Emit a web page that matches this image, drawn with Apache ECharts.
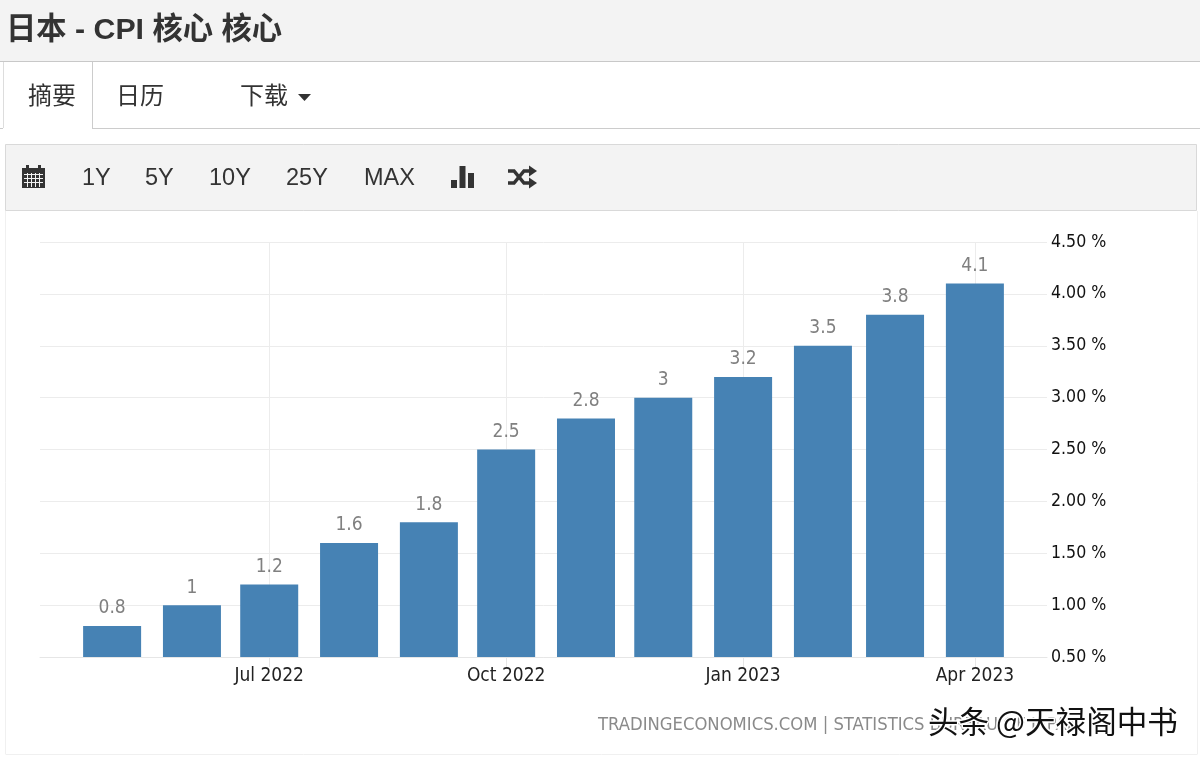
<!DOCTYPE html>
<html><head><meta charset="utf-8">
<style>html,body{margin:0;padding:0;background:#fff}#c{width:1200px;height:757px}</style>
<script src="https://cdn.jsdelivr.net/npm/echarts@6/dist/echarts.min.js"></script>
</head><body><div id="c"></div>
<script>
const titleText = '日本 - CPI 核心 核心';
const months = ['2022-05-01','2022-06-01','2022-07-01','2022-08-01','2022-09-01','2022-10-01','2022-11-01','2022-12-01','2023-01-01','2023-02-01','2023-03-01','2023-04-01'];
const values = [0.8,1,1.2,1.6,1.8,2.5,2.8,3,3.2,3.5,3.8,4.1];
const xTicks = ['2022-07-01','2022-10-01','2023-01-01','2023-04-01'];
const xTickLabels = ['Jul 2022','Oct 2022','Jan 2023','Apr 2023'];
const xRange = ['2022-04-03','2023-04-29'];
const yTicks = {min:0.5,max:4.5,step:0.5};
const tabs = [['摘要',28],['日历',116],['下载',240]];
const ranges = [['1Y',82],['5Y',145],['10Y',209],['25Y',286],['MAX',364]];
const sourceText = 'TRADINGECONOMICS.COM | STATISTICS BUREAU OF JAPAN';
const watermark = '头条 @天禄阁中书';

const ts = s => Date.parse(s+'T00:00:00Z');
const tickTs = xTicks.map(ts);
const line = (x1,y1,x2,y2,c,z) => ({type:'line',silent:true,z:z||0,shape:{x1,y1,x2,y2},style:{stroke:c,lineWidth:1}});
const rect = (x,y,w,h,fill,stroke) => ({type:'rect',silent:true,z:0,shape:{x,y,width:w,height:h},style:{fill:fill,stroke:stroke||null,lineWidth:1}});
const text = (t,x,y,size,color,extra) => ({type:'text',silent:true,z:3,x,y,style:Object.assign({text:t,fontSize:size,fill:color,fontFamily:'"Liberation Sans","Noto Sans CJK SC",sans-serif',textVerticalAlign:'middle'},extra||{})});
const dark='#333333';
const labelFont='"DejaVu Sans Condensed","DejaVu Sans",sans-serif';
const g = [
  rect(-1,-1,1202,62.5,'#f3f3f3'),
  line(0,61.5,1200,61.5,'#c8c8c8'),
  line(3.5,62,3.5,128,'#dddddd'),
  line(92.5,62,92.5,128,'#cccccc'),
  line(0,128.5,3,128.5,'#cccccc'),
  line(92,128.5,1200,128.5,'#cccccc'),
  rect(5.5,144.5,1191,66,'#f3f3f3','#d9d9d9'),
  line(5.5,211,5.5,754,'#f0f0f0'),
  line(1197.5,211,1197.5,754,'#f0f0f0'),
  line(5.5,754.5,1197.5,754.5,'#f0f0f0'),
  rect(22,168,23,20,dark),
  rect(26,165,3,4,dark),rect(38,165,3,4,dark),
  line(24,174.5,43,174.5,'#f3f3f3',1),line(24,178.5,43,178.5,'#f3f3f3',1),line(24,182.5,43,182.5,'#f3f3f3',1),
  line(27.5,173,27.5,187,'#f3f3f3',1),line(31.5,173,31.5,187,'#f3f3f3',1),line(35.5,173,35.5,187,'#f3f3f3',1),line(39.5,173,39.5,187,'#f3f3f3',1),
  rect(451,180,6,8,dark),rect(459.5,166,6,22,dark),rect(468,173,6,15,dark),
  {type:'polyline',silent:true,z:1,shape:{points:[[508,171],[514,171],[524,183],[530,183]]},style:{stroke:dark,lineWidth:3.5,fill:null}},
  {type:'polyline',silent:true,z:1,shape:{points:[[508,183],[514,183],[524,171],[530,171]]},style:{stroke:dark,lineWidth:3.5,fill:null}},
  {type:'polygon',silent:true,z:1,shape:{points:[[529,165.5],[537,171],[529,176.5]]},style:{fill:dark}},
  {type:'polygon',silent:true,z:1,shape:{points:[[529,177.5],[537,183],[529,188.5]]},style:{fill:dark}},
  {type:'polygon',silent:true,z:1,shape:{points:[[298,94],[311,94],[304.5,101]]},style:{fill:dark}},
  text(titleText,6,31,30.3,dark,{fontWeight:'bold'}),
  text(sourceText,598,725,18.3,'#8a8a8a',{fontFamily:labelFont}),
  text(watermark,928,721,30.6,'#111111',{stroke:'#ffffff',lineWidth:3,fontFamily:'"Noto Sans CJK SC",sans-serif'})
];
tabs.forEach(t=>g.push(text(t[0],t[1],95,24,dark,{fontFamily:'"Noto Sans CJK SC",sans-serif'})));
ranges.forEach(r=>g.push(text(r[0],r[1],179,23.5,dark)));

const chart = echarts.init(document.getElementById('c'),null,{renderer:'canvas',width:1200,height:757});
chart.setOption({
  animation:false,
  backgroundColor:'#ffffff',
  grid:{left:40,right:153,top:242,bottom:100},
  graphic:{elements:g},
  xAxis:{type:'value',min:ts(xRange[0]),max:ts(xRange[1]),scale:true,
    axisLine:{show:true,onZero:false,lineStyle:{color:'#e6e6e6',width:1}},
    axisTick:{show:true,length:10,customValues:tickTs,lineStyle:{color:'#e6e6e6'}},
    splitLine:{show:false},
    axisLabel:{show:true,customValues:tickTs,margin:10,color:'#222222',fontSize:19,fontFamily:labelFont,hideOverlap:false,
      formatter:v=>xTickLabels[tickTs.indexOf(v)]||''}
  },
  yAxis:{type:'value',position:'right',min:yTicks.min,max:yTicks.max,interval:yTicks.step,
    axisLine:{show:false},axisTick:{show:false},
    splitLine:{show:true,lineStyle:{color:'#ececec',width:1}},
    axisLabel:{margin:4,padding:[6,0,0,0],color:'#111111',fontSize:17.6,fontFamily:labelFont,formatter:v=>v.toFixed(2)+' %'}
  },
  series:[
    {type:'bar',barWidth:58,itemStyle:{color:'#4682b4'},data:months.map((m,i)=>[ts(m),values[i]]),
     z:3,label:{show:true,position:'top',distance:8,color:'#808080',fontSize:19,fontFamily:labelFont,formatter:p=>String(p.value[1])},
     markLine:{silent:true,symbol:'none',label:{show:false},animation:false,z:1,lineStyle:{color:'#ececec',width:1,type:'solid'},data:tickTs.map(t=>({xAxis:t}))}}
  ]
});
</script></body></html>
